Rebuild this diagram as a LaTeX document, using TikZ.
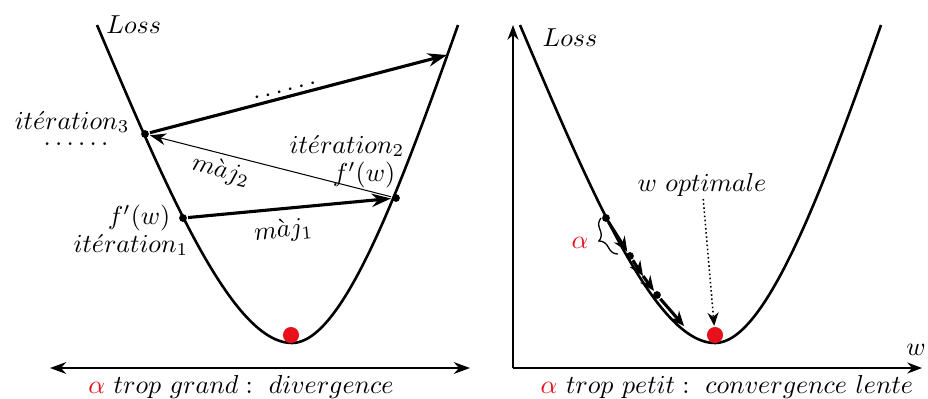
\documentclass[tikz,border=0pt]{standalone}
\usetikzlibrary{arrows.meta, positioning, decorations.pathreplacing, calc}
\definecolor{cred}{HTML}{E8101A}
\tikzset{
  every picture/.style={line width=0.9pt},
  losscurve/.style={line width=1pt, line join=round},
  pt/.style={circle, fill=black, inner sep=0pt, minimum size=3pt},
  optimum/.style={circle, fill=cred, inner sep=0pt, minimum size=6.2pt},
  jump/.style={-{Stealth[length=2.6mm, width=1.8mm]}, line width=1.2pt},
  thinjump/.style={-{Stealth[length=2.2mm, width=1.6mm]}, line width=0.4pt},
  smallstep/.style={-{Stealth[length=2mm, width=1.7mm]}, line width=1.2pt},
  axis/.style={-{Stealth[length=2mm, width=1.5mm]}, line width=0.5pt},
  span/.style={{Stealth[length=2.2mm, width=1.6mm]}-{Stealth[length=2.2mm, width=1.6mm]}, line width=0.6pt},
  hint/.style={-{Stealth[length=1.8mm, width=1.5mm]}, line width=0.6pt, densely dotted},
  lbl/.style={inner sep=0.5pt},
}

\begin{document}
\begin{tikzpicture}[x=0.385pt, y=-0.385pt]
  \useasboundingbox (0,0) rectangle (928,398);

  % the same loss curve in both panels
  \foreach \dx in {0,423}
    \draw[losscurve, xshift=\dx*0.385pt] (97,25) .. controls (167,190) and (232,343) .. (292,343)
      .. controls (342,343) and (398,195) .. (458,25);

  % left: alpha too large
  \node[lbl, anchor=west] (loss1) at (104,25) {$Loss$};
  \node[pt] (it1) at (183,218) {};
  \node[pt] (it2) at (396,198) {};
  \node[pt] (it3) at (145,134) {};
  \coordinate (far) at (447,55);
  \node[optimum] (min1) at (291,335) {};
  \draw[jump] (it1) -- node[lbl, sloped, below=3pt, pos=0.46] {$m\grave{a}j_1$} (it2);
  \draw[thinjump] (it2) -- (it3);
  \draw[jump] (it3) -- node[lbl, sloped, above=1pt, pos=0.46] {$\ldots\ldots$} (far);
  \node[lbl, rotate=-14.4] (maj2) at (221,171) {$m\grave{a}j_2$};
  \node[lbl, anchor=east] (lit3) at (132,122) {$it\acute{e}ration_3$};
  \node[lbl] (dots3) at (76,144) {$\ldots\ldots$};
  \node[lbl] (lit2) at (347,146) {$it\acute{e}ration_2$};
  \node[lbl] (df2) at (364,175) {$f'(w)$};
  \node[lbl, left=2pt of it1] (df1) {$f'(w)$};
  \node[lbl] (lit1) at (131,245) {$it\acute{e}ration_1$};
  \coordinate (spanl) at (50,368);
  \coordinate (spanr) at (470,368);
  \draw[span] (spanl) -- (spanr);
  \node[lbl] (cap1) at (241,387) {$\textcolor{cred}{\alpha}\ trop\ grand:\ divergence$};

  % right: alpha too small
  \coordinate (origin) at (513,368);
  \coordinate (ytop) at (513,25);
  \coordinate (xend) at (922,368);
  \draw[axis] (origin) -- (ytop);
  \draw[axis] (origin) -- (xend);
  \node[lbl, anchor=east] (wax) at (928,350) {$w$};
  \node[lbl] (loss2) at (570,38) {$Loss$};
  \node[pt] (s0) at (606,218) {};
  \node[pt] (s1) at (630,256) {};
  \coordinate (s2) at (643,276);
  \node[pt] (s3) at (657,295) {};
  \coordinate (s4) at (684,326);
  \draw[smallstep] (s0) -- (s1);
  \draw[smallstep] (s1) -- (s2);
  \draw[smallstep] (s2) -- (s3);
  \draw[smallstep] (s3) -- (s4);
  \coordinate (bra) at (618,254);
  \coordinate (brb) at (601,218);
  \draw[line width=0.5pt, decorate, decoration={brace, amplitude=4.5pt}] (bra) -- (brb);
  \node[lbl, text=cred] (alpha) at (580,243) {$\alpha$};
  \node[optimum] (min2) at (715,335) {};
  \node[lbl] (wopt) at (702,185) {$w\ optimale$};
  \draw[hint] (wopt) -- (min2);
  \node[lbl] (cap2) at (727,387) {$\textcolor{cred}{\alpha}\ trop\ petit:\ convergence\ lente$};
\end{tikzpicture}
\end{document}
